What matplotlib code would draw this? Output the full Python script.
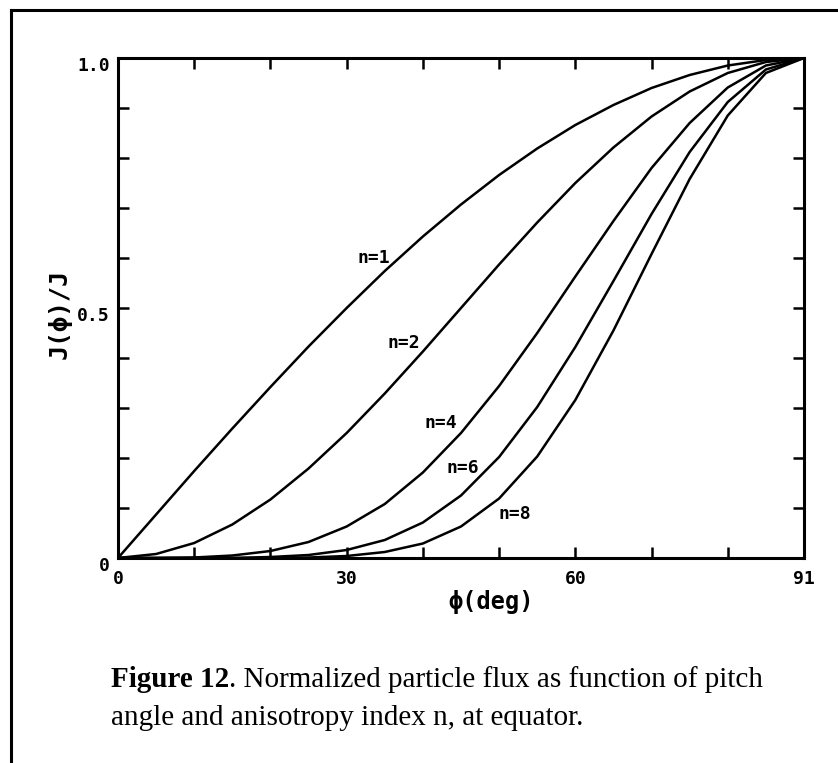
import matplotlib
matplotlib.use("Agg")
import matplotlib.pyplot as plt
from matplotlib.lines import Line2D
from matplotlib.transforms import ScaledTranslation

# pitch angle (deg) and flux curves, every 5 deg
phi = [0, 5, 10, 15, 20, 25, 30, 35, 40, 45, 50, 55, 60, 65, 70, 75, 80, 85, 90]
flux_n1 = [0, 0.087, 0.174, 0.259, 0.342, 0.423, 0.50, 0.574, 0.643, 0.707,
           0.766, 0.819, 0.866, 0.906, 0.940, 0.966, 0.985, 0.996, 1.0]
flux_n2 = [0, 0.008, 0.030, 0.067, 0.117, 0.179, 0.25, 0.329, 0.413, 0.50,
           0.587, 0.671, 0.75, 0.821, 0.883, 0.933, 0.970, 0.992, 1.0]
flux_n4 = [0, 0.0, 0.001, 0.005, 0.014, 0.032, 0.063, 0.108, 0.171, 0.25,
           0.344, 0.450, 0.563, 0.674, 0.780, 0.870, 0.941, 0.985, 1.0]
flux_n6 = [0, 0.0, 0.0, 0.0, 0.002, 0.006, 0.016, 0.036, 0.071, 0.125,
           0.202, 0.302, 0.422, 0.554, 0.688, 0.812, 0.912, 0.977, 1.0]
flux_n8 = [0, 0.0, 0.0, 0.0, 0.0, 0.001, 0.004, 0.012, 0.029, 0.063,
           0.119, 0.203, 0.316, 0.455, 0.608, 0.758, 0.885, 0.970, 1.0]

curve_labels = ["n=1", "n=2", "n=4", "n=6", "n=8"]
label_x = [33.5, 37.5, 42.4, 45.3, 52.0]
label_y = [0.60, 0.43, 0.27, 0.18, 0.088]

xtick_pos = [0, 30, 60, 90]
xtick_text = ["0", "30", "60", "91"]
ytick_pos = [0, 0.5, 1.0]
ytick_text = ["0", "0.5", "1.0"]

mono = ["DejaVu Sans Mono"]
serif = ["Liberation Serif", "DejaVu Serif"]

fig = plt.figure(figsize=(8.38, 7.63), dpi=100)
fig.patch.set_facecolor("white")

# outer frame of the scanned page (runs off right / bottom)
fig.add_artist(Line2D([11 / 838, 11 / 838], [0, 1 - 10 / 763], color="black", lw=2.2))
fig.add_artist(Line2D([11 / 838, 1], [1 - 10 / 763, 1 - 10 / 763], color="black", lw=2.2))

ax = fig.add_axes([118 / 838, 205 / 763, 686 / 838, 500 / 763])

for ys in [flux_n1, flux_n2, flux_n4, flux_n6, flux_n8]:
    ax.plot(phi, ys, color="black", lw=1.8, solid_joinstyle="miter")

for txt, lx, ly in zip(curve_labels, label_x, label_y):
    ax.text(lx, ly, txt, ha="center", va="center", family=mono,
            fontsize=13, fontweight="bold")

ax.set_xlim(0, 90)
ax.set_ylim(0, 1.0)
ax.set_xticks(range(0, 91, 10))
ax.set_xticklabels([xtick_text[xtick_pos.index(v)] if v in xtick_pos else "" for v in range(0, 91, 10)],
                   family=mono, fontsize=13, fontweight="bold")
ax.set_yticks([i / 10 for i in range(11)])
ax.set_yticklabels([ytick_text[ytick_pos.index(round(i / 10, 1))] if round(i / 10, 1) in ytick_pos else ""
                    for i in range(11)], family=mono, fontsize=13, fontweight="bold")
ax.tick_params(direction="in", length=8, width=1.8, top=True, right=True)
ax.tick_params(axis="x", pad=9)
ax.tick_params(axis="y", pad=6)
shift = ScaledTranslation(0, -6 / 100, fig.dpi_scale_trans)
for lab in ax.get_yticklabels():
    lab.set_transform(lab.get_transform() + shift)
for sp in ax.spines.values():
    sp.set_linewidth(2.2)

ax.set_xlabel("\u03d5(deg)", family=mono, fontsize=17, fontweight="bold", va="top")
ax.xaxis.set_label_coords((491 - 118) / 686, -(590 - 558) / 500)
ax.set_ylabel("J(\u03d5)/J", family=mono, fontsize=18, fontweight="bold", va="center")
ax.yaxis.set_label_coords((60 - 118) / 686, 0.488)

# caption below the plot
t1 = fig.text(111 / 838, 1 - 687 / 763, "Figure 12", family=serif, fontsize=21,
              fontweight="bold", va="baseline", ha="left")
ax.annotate(". Normalized particle flux as function of pitch", xy=(1, 0), xycoords=t1,
            va="bottom", ha="left", family=serif, fontsize=21, annotation_clip=False)
fig.text(111 / 838, 1 - 725 / 763, "angle and anisotropy index n, at equator.",
         family=serif, fontsize=21, va="baseline", ha="left")

fig.savefig("out.png", dpi=100, facecolor="white")
